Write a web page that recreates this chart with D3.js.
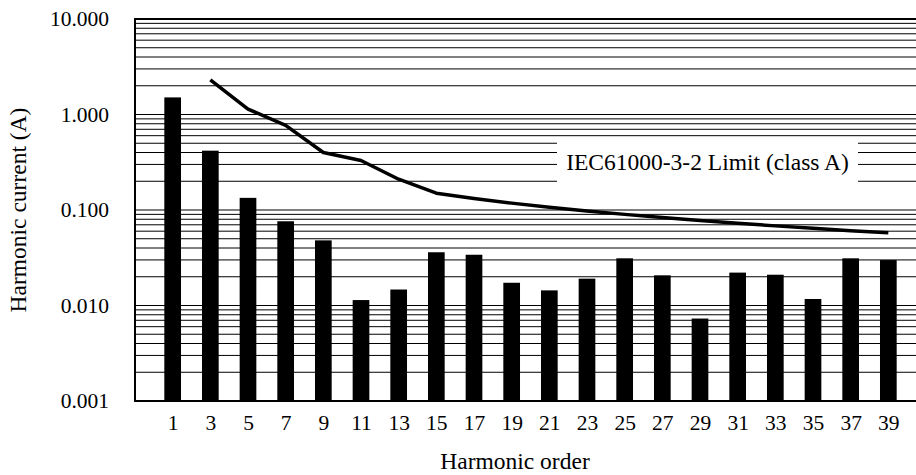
<!DOCTYPE html>
<html>
<head>
<meta charset="utf-8">
<script src="https://cdn.jsdelivr.net/npm/d3@7"></script>
<style>
  html, body { margin: 0; padding: 0; background: #fff; }
  svg { display: block; }
  text { font-family: "Liberation Serif", "Times New Roman", serif; fill: #000; }
</style>
</head>
<body>
<svg id="chart" width="916" height="475"></svg>
<script>
// ---- data ----
const harmonics = [1, 3, 5, 7, 9, 11, 13, 15, 17, 19, 21, 23, 25, 27, 29, 31, 33, 35, 37, 39];
const measured  = [1.51, 0.418, 0.134, 0.0762, 0.0481, 0.0114, 0.0147, 0.0361, 0.0340, 0.0173,
                   0.0144, 0.0191, 0.0312, 0.0207, 0.0073, 0.0221, 0.0210, 0.0117, 0.0312, 0.0299];
const limitOrders = [3, 5, 7, 9, 11, 13, 15, 17, 19, 21, 23, 25, 27, 29, 31, 33, 35, 37, 39];
const limitValues = [2.30, 1.14, 0.77, 0.40, 0.33, 0.21, 0.15, 0.132, 0.118, 0.107, 0.0978,
                     0.090, 0.0833, 0.0776, 0.0726, 0.0682, 0.0643, 0.0608, 0.0577];
const yTickValues = [0.001, 0.01, 0.1, 1, 10];
const xAxisTitle = "Harmonic order";
const yAxisTitle = "Harmonic current (A)";
const limitLabel = "IEC61000-3-2 Limit (class A)";

// ---- layout ----
const svg = d3.select("#chart");
const plot = { left: 135, top: 19, bottom: 401, right: 926 };

const x = d3.scaleLinear().domain([-1, 41]).range([plot.left, plot.right]);
const y = d3.scaleLog().domain([0.001, 10]).range([plot.bottom, plot.top]);

// gridlines (major + minor)
const gridVals = [];
for (let e = -3; e <= 1; e++) {
  for (let m = 1; m <= 9; m++) {
    const v = m * Math.pow(10, e);
    if (v >= 0.001 && v <= 10.0001) gridVals.push(v);
  }
}
svg.append("g").selectAll("line").data(gridVals).join("line")
  .attr("x1", plot.left).attr("x2", 916)
  .attr("y1", d => y(d)).attr("y2", d => y(d))
  .attr("stroke", "#000").attr("stroke-width", 1);

// top line thicker
svg.append("line").attr("x1", plot.left).attr("x2", 916)
  .attr("y1", y(10)).attr("y2", y(10)).attr("stroke", "#000").attr("stroke-width", 2);

// bars
const barW = (x(3) - x(1)) * 0.443;
svg.append("g").selectAll("rect").data(harmonics).join("rect")
  .attr("x", (d) => x(d) - barW / 2)
  .attr("width", barW)
  .attr("y", (d, i) => y(measured[i]))
  .attr("height", (d, i) => plot.bottom - y(measured[i]))
  .attr("fill", "#000");

// limit line
const line = d3.line().x(d => x(d[0])).y(d => y(d[1]));
svg.append("path")
  .datum(limitOrders.map((o, i) => [o, limitValues[i]]))
  .attr("d", line)
  .attr("fill", "none").attr("stroke", "#000").attr("stroke-width", 3.5)
  .attr("stroke-linejoin", "round");

// label box
const lbl = svg.append("g");
lbl.append("rect").attr("x", 557).attr("y", 139).attr("width", 301).attr("height", 46).attr("fill", "#fff");
lbl.append("text").attr("x", 707.5).attr("y", 170).attr("text-anchor", "middle")
  .attr("font-size", 23.5).text(limitLabel);

// axes
const yAxis = d3.axisLeft(y).tickValues(yTickValues).tickFormat(d3.format(".3f")).tickSize(0).tickPadding(26);
const gy = svg.append("g").attr("transform", `translate(${plot.left},0)`).call(yAxis);
gy.select(".domain").remove();
gy.selectAll("text").attr("font-size", 21.5).attr("font-family", "Liberation Serif");

const xAxis = d3.axisBottom(x).tickValues(harmonics).tickFormat(d3.format("d")).tickSize(0).tickPadding(14);
const gx = svg.append("g").attr("transform", `translate(0,${plot.bottom})`).call(xAxis);
gx.select(".domain").remove();
gx.selectAll("text").attr("font-size", 21.5).attr("font-family", "Liberation Serif");

// axis lines
svg.append("line").attr("x1", plot.left).attr("x2", plot.left)
  .attr("y1", plot.top - 1).attr("y2", plot.bottom + 1).attr("stroke", "#000").attr("stroke-width", 2);
svg.append("line").attr("x1", plot.left - 1).attr("x2", 916)
  .attr("y1", plot.bottom).attr("y2", plot.bottom).attr("stroke", "#000").attr("stroke-width", 2);

// titles
svg.append("text").attr("x", 515).attr("y", 469).attr("text-anchor", "middle")
  .attr("font-size", 23.5).text(xAxisTitle);
svg.append("text").attr("transform", "translate(26,210) rotate(-90)").attr("text-anchor", "middle")
  .attr("font-size", 23.5).text(yAxisTitle);
</script>
</body>
</html>
